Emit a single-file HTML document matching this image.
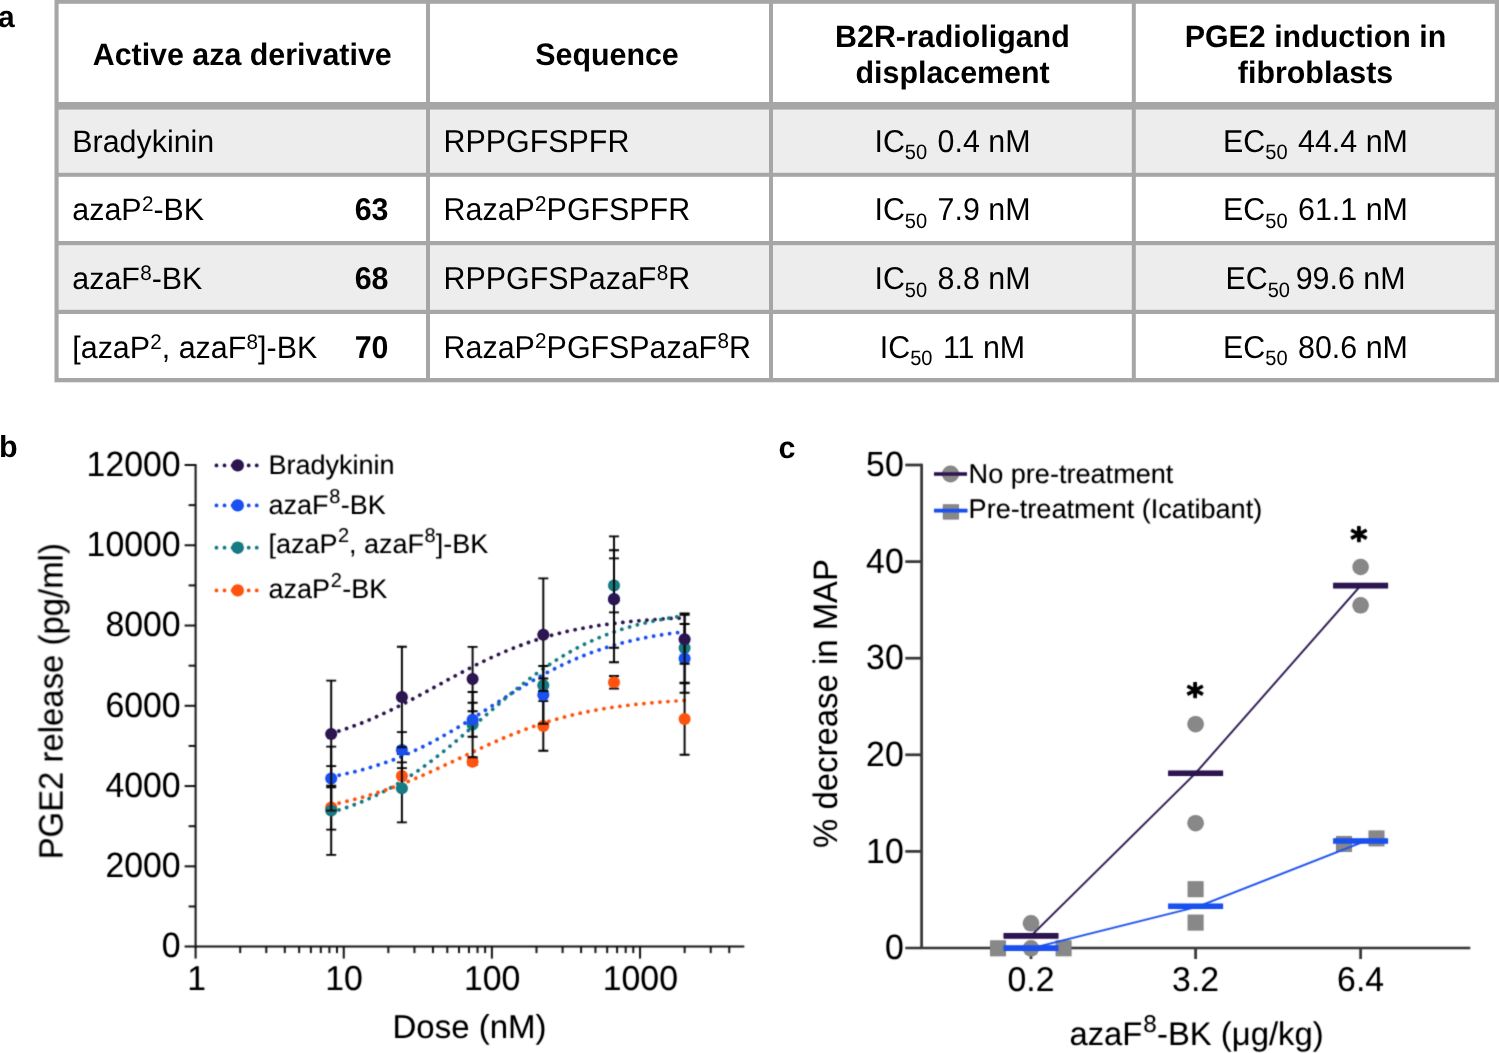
<!DOCTYPE html>
<html lang="en"><head><meta charset="utf-8"><title>Figure</title>
<style>
html,body{margin:0;padding:0;background:#fff;}
body{width:1499px;height:1053px;overflow:hidden;}
svg{display:block;font-family:"Liberation Sans", sans-serif;}
text{white-space:pre;text-rendering:geometricPrecision;}
</style></head><body>
<svg width="1499" height="1053" viewBox="0 0 1499 1053">
<defs><filter id="soft" x="0" y="0" width="1499" height="1053" filterUnits="userSpaceOnUse" color-interpolation-filters="sRGB"><feConvolveMatrix order="3" kernelMatrix="0.0324 0.1152 0.0324 0.1152 0.4096 0.1152 0.0324 0.1152 0.0324" divisor="1" edgeMode="none" preserveAlpha="false"/><feComponentTransfer><feFuncA type="linear" slope="1.06" intercept="0"/></feComponentTransfer></filter></defs>
<rect width="1499" height="1053" fill="#fff"/>
<rect x="54.5" y="0" width="1444.5" height="382.3" fill="#a6a6a6"/>
<rect x="58.6" y="3.8" width="367.40" height="98.20" fill="#ffffff"/>
<rect x="430" y="3.8" width="339.00" height="98.20" fill="#ffffff"/>
<rect x="773" y="3.8" width="358.80" height="98.20" fill="#ffffff"/>
<rect x="1135.8" y="3.8" width="359.00" height="98.20" fill="#ffffff"/>
<rect x="58.6" y="109.6" width="367.40" height="63.20" fill="#ededed"/>
<rect x="430" y="109.6" width="339.00" height="63.20" fill="#ededed"/>
<rect x="773" y="109.6" width="358.80" height="63.20" fill="#ededed"/>
<rect x="1135.8" y="109.6" width="359.00" height="63.20" fill="#ededed"/>
<rect x="58.6" y="176.8" width="367.40" height="64.20" fill="#ffffff"/>
<rect x="430" y="176.8" width="339.00" height="64.20" fill="#ffffff"/>
<rect x="773" y="176.8" width="358.80" height="64.20" fill="#ffffff"/>
<rect x="1135.8" y="176.8" width="359.00" height="64.20" fill="#ffffff"/>
<rect x="58.6" y="245.2" width="367.40" height="64.60" fill="#ededed"/>
<rect x="430" y="245.2" width="339.00" height="64.60" fill="#ededed"/>
<rect x="773" y="245.2" width="358.80" height="64.60" fill="#ededed"/>
<rect x="1135.8" y="245.2" width="359.00" height="64.60" fill="#ededed"/>
<rect x="58.6" y="314" width="367.40" height="64.00" fill="#ffffff"/>
<rect x="430" y="314" width="339.00" height="64.00" fill="#ffffff"/>
<rect x="773" y="314" width="358.80" height="64.00" fill="#ffffff"/>
<rect x="1135.8" y="314" width="359.00" height="64.00" fill="#ffffff"/>
<text x="-2.0" y="27.3" font-size="30.0" font-weight="bold">a</text>
<text x="-1" y="457.3" font-size="30.5" font-weight="bold">b</text>
<text x="778.5" y="457.5" font-size="30.5" font-weight="bold">c</text>
<text x="242.2" y="65.4" font-size="30.4" text-anchor="middle" font-weight="bold" transform="matrix(1 0 0 1.02 0 -1.308)">Active aza derivative</text>
<text x="607" y="65.4" font-size="30.4" text-anchor="middle" font-weight="bold" transform="matrix(1 0 0 1.02 0 -1.308)">Sequence</text>
<text x="952.4" y="47.4" font-size="30.4" text-anchor="middle" font-weight="bold" transform="matrix(1 0 0 1.02 0 -0.948)">B2R-radioligand</text>
<text x="952.6" y="83.3" font-size="30.4" text-anchor="middle" font-weight="bold" transform="matrix(1 0 0 1.02 0 -1.666)">displacement</text>
<text x="1315.5" y="47.4" font-size="30.4" text-anchor="middle" font-weight="bold" transform="matrix(1 0 0 1.02 0 -0.948)">PGE2 induction in</text>
<text x="1315.5" y="83.3" font-size="30.4" text-anchor="middle" font-weight="bold" transform="matrix(1 0 0 1.02 0 -1.666)">fibroblasts</text>
<text x="72.3" y="151.6" font-size="30.4" transform="matrix(1 0 0 1.02 0 -3.032)">Bradykinin</text>
<text x="443.6" y="151.6" font-size="30.4" transform="matrix(1 0 0 1.04 0 -6.064)">RPPGFSPFR</text>
<text x="952.5" y="151.6" font-size="30.4" text-anchor="middle" transform="matrix(1 0 0 1.04 0 -6.064)">IC<tspan font-size="20.06" dx="0" dy="7.14">50</tspan><tspan dx="2" dy="-7.14"> 0.4 nM</tspan></text>
<text x="1315.5" y="151.6" font-size="30.4" text-anchor="middle" transform="matrix(1 0 0 1.04 0 -6.064)">EC<tspan font-size="20.06" dx="0" dy="7.14">50</tspan><tspan dx="2" dy="-7.14"> 44.4 nM</tspan></text>
<text x="72.3" y="220.1" font-size="30.4" transform="matrix(1 0 0 1.02 0 -4.402)">azaP<tspan font-size="20.67" dx="0.3" dy="-9.12">2</tspan><tspan dx="0" dy="9.12">-BK</tspan></text>
<text x="388.5" y="220.1" font-size="30.4" text-anchor="end" font-weight="bold" transform="matrix(1 0 0 1.04 0 -8.804)">63</text>
<text x="443.6" y="220.1" font-size="30.4" transform="matrix(1 0 0 1.04 0 -8.804)">RazaP<tspan font-size="20.67" dx="0.3" dy="-9.12">2</tspan><tspan dx="0" dy="9.12">PGFSPFR</tspan></text>
<text x="952.5" y="220.1" font-size="30.4" text-anchor="middle" transform="matrix(1 0 0 1.04 0 -8.804)">IC<tspan font-size="20.06" dx="0" dy="7.14">50</tspan><tspan dx="2" dy="-7.14"> 7.9 nM</tspan></text>
<text x="1315.5" y="220.1" font-size="30.4" text-anchor="middle" transform="matrix(1 0 0 1.04 0 -8.804)">EC<tspan font-size="20.06" dx="0" dy="7.14">50</tspan><tspan dx="2" dy="-7.14"> 61.1 nM</tspan></text>
<text x="72.3" y="289.2" font-size="30.4" transform="matrix(1 0 0 1.02 0 -5.784)">azaF<tspan font-size="20.67" dx="0.3" dy="-9.12">8</tspan><tspan dx="0" dy="9.12">-BK</tspan></text>
<text x="388.5" y="289.2" font-size="30.4" text-anchor="end" font-weight="bold" transform="matrix(1 0 0 1.04 0 -11.568)">68</text>
<text x="443.6" y="289.2" font-size="30.4" transform="matrix(1 0 0 1.04 0 -11.568)">RPPGFSPazaF<tspan font-size="20.67" dx="0.3" dy="-9.12">8</tspan><tspan dx="0" dy="9.12">R</tspan></text>
<text x="952.5" y="289.2" font-size="30.4" text-anchor="middle" transform="matrix(1 0 0 1.04 0 -11.568)">IC<tspan font-size="20.06" dx="0" dy="7.14">50</tspan><tspan dx="2" dy="-7.14"> 8.8 nM</tspan></text>
<text x="1315.5" y="289.2" font-size="30.4" text-anchor="middle" transform="matrix(1 0 0 1.04 0 -11.568)">EC<tspan font-size="20.06" dx="0" dy="7.14">50</tspan><tspan dx="-2.8" dy="-7.14"> 99.6 nM</tspan></text>
<text x="72.3" y="357.9" font-size="30.4" transform="matrix(1 0 0 1.02 0 -7.158)">[azaP<tspan font-size="20.67" dx="0.3" dy="-9.12">2</tspan><tspan dx="0" dy="9.12">, azaF</tspan><tspan font-size="20.67" dx="0.3" dy="-9.12">8</tspan><tspan dx="0" dy="9.12">]-BK</tspan></text>
<text x="388.5" y="357.9" font-size="30.4" text-anchor="end" font-weight="bold" transform="matrix(1 0 0 1.04 0 -14.316)">70</text>
<text x="443.6" y="357.9" font-size="30.4" transform="matrix(1 0 0 1.04 0 -14.316)">RazaP<tspan font-size="20.67" dx="0.3" dy="-9.12">2</tspan><tspan dx="0" dy="9.12">PGFSPazaF</tspan><tspan font-size="20.67" dx="0.3" dy="-9.12">8</tspan><tspan dx="0" dy="9.12">R</tspan></text>
<text x="952.5" y="357.9" font-size="30.4" text-anchor="middle" transform="matrix(1 0 0 1.04 0 -14.316)">IC<tspan font-size="20.06" dx="0" dy="7.14">50</tspan><tspan dx="2" dy="-7.14"> 11 nM</tspan></text>
<text x="1315.5" y="357.9" font-size="30.4" text-anchor="middle" transform="matrix(1 0 0 1.04 0 -14.316)">EC<tspan font-size="20.06" dx="0" dy="7.14">50</tspan><tspan dx="2" dy="-7.14"> 80.6 nM</tspan></text>
<g filter="url(#soft)">
<g stroke="#1c1c1c" stroke-width="2.0" fill="none" stroke-linecap="butt">
<path d="M195.6 463.9V946.6"/>
<path d="M184.6 946.6H744.3"/>
<path d="M184.6 866.33H195.6"/>
<path d="M184.6 786.07H195.6"/>
<path d="M184.6 705.80H195.6"/>
<path d="M184.6 625.53H195.6"/>
<path d="M184.6 545.27H195.6"/>
<path d="M184.6 465.00H195.6"/>
<path d="M188.6 906.47H195.6"/>
<path d="M188.6 826.20H195.6"/>
<path d="M188.6 745.93H195.6"/>
<path d="M188.6 665.67H195.6"/>
<path d="M188.6 585.40H195.6"/>
<path d="M188.6 505.13H195.6"/>
<path d="M195.60 946.6V958.6"/>
<path d="M240.20 946.6V953.1"/>
<path d="M266.29 946.6V953.1"/>
<path d="M284.80 946.6V953.1"/>
<path d="M299.15 946.6V953.1"/>
<path d="M310.88 946.6V953.1"/>
<path d="M320.80 946.6V953.1"/>
<path d="M329.39 946.6V953.1"/>
<path d="M336.97 946.6V953.1"/>
<path d="M343.75 946.6V958.6"/>
<path d="M388.35 946.6V953.1"/>
<path d="M414.44 946.6V953.1"/>
<path d="M432.95 946.6V953.1"/>
<path d="M447.30 946.6V953.1"/>
<path d="M459.03 946.6V953.1"/>
<path d="M468.95 946.6V953.1"/>
<path d="M477.54 946.6V953.1"/>
<path d="M485.12 946.6V953.1"/>
<path d="M491.90 946.6V958.6"/>
<path d="M536.50 946.6V953.1"/>
<path d="M562.59 946.6V953.1"/>
<path d="M581.10 946.6V953.1"/>
<path d="M595.45 946.6V953.1"/>
<path d="M607.18 946.6V953.1"/>
<path d="M617.10 946.6V953.1"/>
<path d="M625.69 946.6V953.1"/>
<path d="M633.27 946.6V953.1"/>
<path d="M640.05 946.6V958.6"/>
<path d="M684.65 946.6V953.1"/>
<path d="M710.74 946.6V953.1"/>
<path d="M729.25 946.6V953.1"/>
</g>
<text x="180.6" y="957.3000000000001" font-size="33.8" text-anchor="end" transform="matrix(1 0 0 1.035 0 -33.505)">0</text>
<text x="180.6" y="877.0333333333334" font-size="33.8" text-anchor="end" transform="matrix(1 0 0 1.035 0 -30.696)">2000</text>
<text x="180.6" y="796.7666666666668" font-size="33.8" text-anchor="end" transform="matrix(1 0 0 1.035 0 -27.887)">4000</text>
<text x="180.6" y="716.5" font-size="33.8" text-anchor="end" transform="matrix(1 0 0 1.035 0 -25.077)">6000</text>
<text x="180.6" y="636.2333333333333" font-size="33.8" text-anchor="end" transform="matrix(1 0 0 1.035 0 -22.268)">8000</text>
<text x="180.6" y="555.9666666666667" font-size="33.8" text-anchor="end" transform="matrix(1 0 0 1.035 0 -19.459)">10000</text>
<text x="180.6" y="475.7" font-size="33.8" text-anchor="end" transform="matrix(1 0 0 1.035 0 -16.649)">12000</text>
<text x="196.6" y="990.2" font-size="33.8" text-anchor="middle" transform="matrix(1 0 0 1.025 0 -24.755)">1</text>
<text x="344.05" y="990.2" font-size="33.8" text-anchor="middle" transform="matrix(1 0 0 1.025 0 -24.755)">10</text>
<text x="492.2" y="990.2" font-size="33.8" text-anchor="middle" transform="matrix(1 0 0 1.025 0 -24.755)">100</text>
<text x="640.35" y="990.2" font-size="33.8" text-anchor="middle" transform="matrix(1 0 0 1.025 0 -24.755)">1000</text>
<text x="469.5" y="1037.7" font-size="33.0" text-anchor="middle">Dose (nM)</text>
<text transform="translate(62.5 701.3) rotate(-90) scale(1 1.03)" font-size="32.9" text-anchor="middle">PGE2 release (pg/ml)</text>
<path d="M216.4 465.4H259" stroke="#2d1650" stroke-width="3.7" stroke-linecap="round" stroke-dasharray="0.1 7.96" fill="none"/>
<circle cx="237.7" cy="465.4" r="6.2" fill="#2d1650"/>
<text x="268.4" y="474.1" font-size="27">Bradykinin</text>
<path d="M216.4 505.4H259" stroke="#1a50f0" stroke-width="3.7" stroke-linecap="round" stroke-dasharray="0.1 7.96" fill="none"/>
<circle cx="237.7" cy="505.4" r="6.2" fill="#1a50f0"/>
<text x="268.4" y="513.5" font-size="27">azaF<tspan font-size="19.98" dx="0.8" dy="-10.67">8</tspan><tspan dx="0.4" dy="10.67">-BK</tspan></text>
<path d="M216.4 547.6999999999999H259" stroke="#187a82" stroke-width="3.7" stroke-linecap="round" stroke-dasharray="0.1 7.96" fill="none"/>
<circle cx="237.7" cy="547.6999999999999" r="6.2" fill="#187a82"/>
<text x="268.4" y="553.1" font-size="27">[azaP<tspan font-size="19.98" dx="0.5" dy="-10.67">2</tspan><tspan dx="0" dy="10.67">, azaF</tspan><tspan font-size="19.98" dx="0.5" dy="-10.67">8</tspan><tspan dx="0" dy="10.67">]-BK</tspan></text>
<path d="M216.4 590.4H259" stroke="#ff5410" stroke-width="3.7" stroke-linecap="round" stroke-dasharray="0.1 7.96" fill="none"/>
<circle cx="237.7" cy="590.4" r="6.2" fill="#ff5410"/>
<text x="268.4" y="597.9" font-size="27">azaP<tspan font-size="19.98" dx="0.8" dy="-10.67">2</tspan><tspan dx="0.4" dy="10.67">-BK</tspan></text>
<path d="M331.2 733.5 L334.2 732.6 L337.1 731.7 L340.1 730.7 L343.0 729.8 L345.9 728.8 L348.9 727.8 L351.8 726.7 L354.8 725.6 L357.7 724.5 L360.7 723.4 L363.6 722.2 L366.6 721.0 L369.5 719.8 L372.5 718.5 L375.4 717.2 L378.3 715.9 L381.3 714.6 L384.2 713.2 L387.2 711.9 L390.1 710.5 L393.1 709.0 L396.0 707.6 L399.0 706.1 L401.9 704.6 L404.8 703.1 L407.8 701.6 L410.7 700.0 L413.7 698.5 L416.6 696.9 L419.6 695.3 L422.5 693.7 L425.5 692.1 L428.4 690.5 L431.4 688.9 L434.3 687.3 L437.2 685.7 L440.2 684.1 L443.1 682.5 L446.1 680.8 L449.0 679.2 L452.0 677.6 L454.9 676.0 L457.9 674.5 L460.8 672.9 L463.8 671.3 L466.7 669.8 L469.6 668.3 L472.6 666.7 L475.5 665.2 L478.5 663.8 L481.4 662.3 L484.4 660.9 L487.3 659.5 L490.3 658.1 L493.2 656.7 L496.2 655.4 L499.1 654.1 L502.0 652.8 L505.0 651.5 L507.9 650.3 L510.9 649.1 L513.8 647.9 L516.8 646.8 L519.7 645.7 L522.7 644.6 L525.6 643.5 L528.5 642.5 L531.5 641.5 L534.4 640.5 L537.4 639.6 L540.3 638.6 L543.3 637.7 L546.2 636.9 L549.2 636.0 L552.1 635.2 L555.1 634.4 L558.0 633.7 L560.9 632.9 L563.9 632.2 L566.8 631.5 L569.8 630.9 L572.7 630.2 L575.7 629.6 L578.6 629.0 L581.6 628.5 L584.5 627.9 L587.5 627.4 L590.4 626.9 L593.3 626.4 L596.3 625.9 L599.2 625.4 L602.2 625.0 L605.1 624.6 L608.1 624.2 L611.0 623.8 L614.0 623.4 L616.9 623.0 L619.9 622.7 L622.8 622.4 L625.7 622.0 L628.7 621.7 L631.6 621.4 L634.6 621.1 L637.5 620.9 L640.5 620.6 L643.4 620.4 L646.4 620.1 L649.3 619.9 L652.2 619.7 L655.2 619.5 L658.1 619.3 L661.1 619.1 L664.0 618.9 L667.0 618.7 L669.9 618.5 L672.9 618.4 L675.8 618.2 L678.8 618.1 L681.7 617.9 L684.6 617.8" stroke="#2d1650" stroke-width="3.7" stroke-linecap="round" stroke-dasharray="0.1 7.96" fill="none"/>
<path d="M331.2 776.7 L334.2 776.2 L337.1 775.6 L340.1 775.0 L343.0 774.4 L345.9 773.7 L348.9 773.1 L351.8 772.4 L354.8 771.7 L357.7 770.9 L360.7 770.2 L363.6 769.4 L366.6 768.5 L369.5 767.7 L372.5 766.8 L375.4 765.9 L378.3 764.9 L381.3 764.0 L384.2 763.0 L387.2 761.9 L390.1 760.9 L393.1 759.8 L396.0 758.6 L399.0 757.5 L401.9 756.3 L404.8 755.0 L407.8 753.8 L410.7 752.5 L413.7 751.1 L416.6 749.7 L419.6 748.3 L422.5 746.9 L425.5 745.5 L428.4 744.0 L431.4 742.4 L434.3 740.9 L437.2 739.3 L440.2 737.7 L443.1 736.0 L446.1 734.4 L449.0 732.7 L452.0 730.9 L454.9 729.2 L457.9 727.4 L460.8 725.6 L463.8 723.8 L466.7 722.0 L469.6 720.2 L472.6 718.3 L475.5 716.5 L478.5 714.6 L481.4 712.7 L484.4 710.8 L487.3 708.9 L490.3 707.0 L493.2 705.1 L496.2 703.2 L499.1 701.4 L502.0 699.5 L505.0 697.6 L507.9 695.7 L510.9 693.9 L513.8 692.0 L516.8 690.2 L519.7 688.4 L522.7 686.6 L525.6 684.8 L528.5 683.1 L531.5 681.4 L534.4 679.7 L537.4 678.0 L540.3 676.3 L543.3 674.7 L546.2 673.1 L549.2 671.5 L552.1 670.0 L555.1 668.5 L558.0 667.0 L560.9 665.6 L563.9 664.2 L566.8 662.8 L569.8 661.5 L572.7 660.1 L575.7 658.9 L578.6 657.6 L581.6 656.4 L584.5 655.2 L587.5 654.1 L590.4 653.0 L593.3 651.9 L596.3 650.9 L599.2 649.9 L602.2 648.9 L605.1 647.9 L608.1 647.0 L611.0 646.1 L614.0 645.2 L616.9 644.4 L619.9 643.6 L622.8 642.8 L625.7 642.1 L628.7 641.4 L631.6 640.7 L634.6 640.0 L637.5 639.3 L640.5 638.7 L643.4 638.1 L646.4 637.5 L649.3 637.0 L652.2 636.4 L655.2 635.9 L658.1 635.4 L661.1 635.0 L664.0 634.5 L667.0 634.1 L669.9 633.6 L672.9 633.2 L675.8 632.8 L678.8 632.5 L681.7 632.1 L684.6 631.8" stroke="#1a50f0" stroke-width="3.7" stroke-linecap="round" stroke-dasharray="0.1 7.96" fill="none"/>
<path d="M331.2 812.3 L334.2 811.4 L337.1 810.5 L340.1 809.6 L343.0 808.7 L345.9 807.7 L348.9 806.7 L351.8 805.6 L354.8 804.5 L357.7 803.4 L360.7 802.2 L363.6 801.0 L366.6 799.7 L369.5 798.4 L372.5 797.1 L375.4 795.7 L378.3 794.3 L381.3 792.8 L384.2 791.3 L387.2 789.7 L390.1 788.1 L393.1 786.5 L396.0 784.8 L399.0 783.0 L401.9 781.2 L404.8 779.4 L407.8 777.5 L410.7 775.6 L413.7 773.6 L416.6 771.6 L419.6 769.6 L422.5 767.5 L425.5 765.3 L428.4 763.2 L431.4 760.9 L434.3 758.7 L437.2 756.4 L440.2 754.1 L443.1 751.7 L446.1 749.3 L449.0 746.9 L452.0 744.5 L454.9 742.0 L457.9 739.5 L460.8 737.0 L463.8 734.5 L466.7 731.9 L469.6 729.4 L472.6 726.8 L475.5 724.2 L478.5 721.6 L481.4 719.1 L484.4 716.5 L487.3 713.9 L490.3 711.3 L493.2 708.8 L496.2 706.2 L499.1 703.7 L502.0 701.1 L505.0 698.6 L507.9 696.1 L510.9 693.7 L513.8 691.3 L516.8 688.8 L519.7 686.5 L522.7 684.1 L525.6 681.8 L528.5 679.5 L531.5 677.3 L534.4 675.1 L537.4 672.9 L540.3 670.8 L543.3 668.7 L546.2 666.7 L549.2 664.7 L552.1 662.7 L555.1 660.8 L558.0 659.0 L560.9 657.1 L563.9 655.4 L566.8 653.6 L569.8 652.0 L572.7 650.3 L575.7 648.7 L578.6 647.2 L581.6 645.7 L584.5 644.2 L587.5 642.8 L590.4 641.5 L593.3 640.1 L596.3 638.8 L599.2 637.6 L602.2 636.4 L605.1 635.2 L608.1 634.1 L611.0 633.0 L614.0 632.0 L616.9 631.0 L619.9 630.0 L622.8 629.0 L625.7 628.1 L628.7 627.3 L631.6 626.4 L634.6 625.6 L637.5 624.8 L640.5 624.1 L643.4 623.4 L646.4 622.7 L649.3 622.0 L652.2 621.3 L655.2 620.7 L658.1 620.1 L661.1 619.6 L664.0 619.0 L667.0 618.5 L669.9 618.0 L672.9 617.5 L675.8 617.0 L678.8 616.6 L681.7 616.2 L684.6 615.8" stroke="#187a82" stroke-width="3.7" stroke-linecap="round" stroke-dasharray="0.1 7.96" fill="none"/>
<path d="M331.2 804.7 L334.2 804.1 L337.1 803.5 L340.1 802.9 L343.0 802.2 L345.9 801.5 L348.9 800.8 L351.8 800.1 L354.8 799.3 L357.7 798.6 L360.7 797.8 L363.6 796.9 L366.6 796.1 L369.5 795.2 L372.5 794.3 L375.4 793.4 L378.3 792.4 L381.3 791.5 L384.2 790.5 L387.2 789.4 L390.1 788.4 L393.1 787.3 L396.0 786.2 L399.0 785.1 L401.9 784.0 L404.8 782.8 L407.8 781.6 L410.7 780.4 L413.7 779.2 L416.6 777.9 L419.6 776.7 L422.5 775.4 L425.5 774.1 L428.4 772.8 L431.4 771.5 L434.3 770.1 L437.2 768.8 L440.2 767.4 L443.1 766.0 L446.1 764.6 L449.0 763.2 L452.0 761.9 L454.9 760.5 L457.9 759.1 L460.8 757.7 L463.8 756.3 L466.7 754.9 L469.6 753.5 L472.6 752.1 L475.5 750.7 L478.5 749.3 L481.4 747.9 L484.4 746.6 L487.3 745.2 L490.3 743.9 L493.2 742.6 L496.2 741.3 L499.1 740.0 L502.0 738.7 L505.0 737.5 L507.9 736.2 L510.9 735.0 L513.8 733.8 L516.8 732.7 L519.7 731.5 L522.7 730.4 L525.6 729.3 L528.5 728.2 L531.5 727.2 L534.4 726.1 L537.4 725.1 L540.3 724.1 L543.3 723.2 L546.2 722.2 L549.2 721.3 L552.1 720.5 L555.1 719.6 L558.0 718.8 L560.9 718.0 L563.9 717.2 L566.8 716.4 L569.8 715.7 L572.7 715.0 L575.7 714.3 L578.6 713.6 L581.6 712.9 L584.5 712.3 L587.5 711.7 L590.4 711.1 L593.3 710.6 L596.3 710.0 L599.2 709.5 L602.2 709.0 L605.1 708.5 L608.1 708.0 L611.0 707.6 L614.0 707.1 L616.9 706.7 L619.9 706.3 L622.8 705.9 L625.7 705.5 L628.7 705.2 L631.6 704.8 L634.6 704.5 L637.5 704.2 L640.5 703.9 L643.4 703.6 L646.4 703.3 L649.3 703.0 L652.2 702.8 L655.2 702.5 L658.1 702.3 L661.1 702.0 L664.0 701.8 L667.0 701.6 L669.9 701.4 L672.9 701.2 L675.8 701.0 L678.8 700.8 L681.7 700.7 L684.6 700.5" stroke="#ff5410" stroke-width="3.7" stroke-linecap="round" stroke-dasharray="0.1 7.96" fill="none"/>
<g stroke="#0a0a0a" stroke-width="1.9" fill="none">
<path d="M331.2 785.6V829.6M326.2 785.6h10M326.2 829.6h10"/>
<path d="M401.9 762.4V789.8M396.9 762.4h10M396.9 789.8h10"/>
<path d="M472.6 758.8V764.8M467.6 758.8h10M467.6 764.8h10"/>
<path d="M543.3 701.1V750.7M538.3 701.1h10M538.3 750.7h10"/>
<path d="M614.0 676.0V688.6M609.0 676.0h10M609.0 688.6h10"/>
<path d="M684.6 683.2V754.8M679.6 683.2h10M679.6 754.8h10"/>
</g>
<circle cx="331.2" cy="807.6" r="6" fill="#ff5410"/>
<circle cx="401.9" cy="776.1" r="6" fill="#ff5410"/>
<circle cx="472.6" cy="761.8" r="6" fill="#ff5410"/>
<circle cx="543.3" cy="725.9" r="6" fill="#ff5410"/>
<circle cx="614.0" cy="682.3" r="6" fill="#ff5410"/>
<circle cx="684.6" cy="719" r="6" fill="#ff5410"/>
<g stroke="#0a0a0a" stroke-width="1.9" fill="none">
<path d="M331.2 766.1V854.9M326.2 766.1h10M326.2 854.9h10"/>
<path d="M401.9 754.0V822.4M396.9 754.0h10M396.9 822.4h10"/>
<path d="M472.6 692.0V757.2M467.6 692.0h10M467.6 757.2h10"/>
<path d="M543.3 678.5V692.1M538.3 678.5h10M538.3 692.1h10"/>
<path d="M614.0 558.4V612.4M609.0 558.4h10M609.0 612.4h10"/>
<path d="M684.6 613.4V682.6M679.6 613.4h10M679.6 682.6h10"/>
</g>
<circle cx="331.2" cy="810.5" r="6" fill="#187a82"/>
<circle cx="401.9" cy="788.2" r="6" fill="#187a82"/>
<circle cx="472.6" cy="724.6" r="6" fill="#187a82"/>
<circle cx="543.3" cy="685.3" r="6" fill="#187a82"/>
<circle cx="614.0" cy="585.4" r="6" fill="#187a82"/>
<circle cx="684.6" cy="648.0" r="6" fill="#187a82"/>
<g stroke="#0a0a0a" stroke-width="1.9" fill="none">
<path d="M331.2 746.6V810.6M326.2 746.6h10M326.2 810.6h10"/>
<path d="M401.9 732.1V768.1M396.9 732.1h10M396.9 768.1h10"/>
<path d="M472.6 702.7V736.7M467.6 702.7h10M467.6 736.7h10"/>
<path d="M543.3 666.0V723.8M538.3 666.0h10M538.3 723.8h10"/>
<path d="M614.0 550.3V647.7M609.0 550.3h10M609.0 647.7h10"/>
<path d="M684.6 624.0V692.8M679.6 624.0h10M679.6 692.8h10"/>
</g>
<circle cx="331.2" cy="778.6" r="6" fill="#1a50f0"/>
<circle cx="401.9" cy="750.1" r="6" fill="#1a50f0"/>
<circle cx="472.6" cy="719.7" r="6" fill="#1a50f0"/>
<circle cx="543.3" cy="694.9" r="6" fill="#1a50f0"/>
<circle cx="614.0" cy="599" r="6" fill="#1a50f0"/>
<circle cx="684.6" cy="658.4" r="6" fill="#1a50f0"/>
<g stroke="#0a0a0a" stroke-width="1.9" fill="none">
<path d="M331.2 680.6V787.2M326.2 680.6h10M326.2 787.2h10"/>
<path d="M401.9 646.8V747.2M396.9 646.8h10M396.9 747.2h10"/>
<path d="M472.6 646.9V711.3M467.6 646.9h10M467.6 711.3h10"/>
<path d="M543.3 578.4V691.0M538.3 578.4h10M538.3 691.0h10"/>
<path d="M614.0 536.4V662.2M609.0 536.4h10M609.0 662.2h10"/>
<path d="M684.6 614.8V663.8M679.6 614.8h10M679.6 663.8h10"/>
</g>
<circle cx="331.2" cy="733.9" r="6" fill="#2d1650"/>
<circle cx="401.9" cy="697" r="6" fill="#2d1650"/>
<circle cx="472.6" cy="679.1" r="6" fill="#2d1650"/>
<circle cx="543.3" cy="634.7" r="6" fill="#2d1650"/>
<circle cx="614.0" cy="599.3" r="6" fill="#2d1650"/>
<circle cx="684.6" cy="639.3" r="6" fill="#2d1650"/>
<g stroke="#3d3d3d" stroke-width="2.7" fill="none">
<path d="M921.6 463.7V948.0"/>
<path d="M905.3000000000001 948.0H1470.3"/>
<path d="M905.3000000000001 851.40H921.6"/>
<path d="M905.3000000000001 754.80H921.6"/>
<path d="M905.3000000000001 658.20H921.6"/>
<path d="M905.3000000000001 561.60H921.6"/>
<path d="M905.3000000000001 465.00H921.6"/>
<path d="M1031 948.0V959.0"/>
<path d="M1195.6 948.0V959.0"/>
<path d="M1360.6 948.0V959.0"/>
</g>
<text x="903.7" y="959.1" font-size="33.8" text-anchor="end" transform="matrix(1 0 0 1.035 0 -33.568)">0</text>
<text x="903.7" y="862.5" font-size="33.8" text-anchor="end" transform="matrix(1 0 0 1.035 0 -30.187)">10</text>
<text x="903.7" y="765.9" font-size="33.8" text-anchor="end" transform="matrix(1 0 0 1.035 0 -26.806)">20</text>
<text x="903.7" y="669.3000000000001" font-size="33.8" text-anchor="end" transform="matrix(1 0 0 1.035 0 -23.425)">30</text>
<text x="903.7" y="572.7" font-size="33.8" text-anchor="end" transform="matrix(1 0 0 1.035 0 -20.044)">40</text>
<text x="903.7" y="476.1" font-size="33.8" text-anchor="end" transform="matrix(1 0 0 1.035 0 -16.663)">50</text>
<text x="1031" y="991.4" font-size="33.8" text-anchor="middle" transform="matrix(1 0 0 1.02 0 -19.828)">0.2</text>
<text x="1195.6" y="991.4" font-size="33.8" text-anchor="middle" transform="matrix(1 0 0 1.02 0 -19.828)">3.2</text>
<text x="1360.6" y="991.4" font-size="33.8" text-anchor="middle" transform="matrix(1 0 0 1.02 0 -19.828)">6.4</text>
<text x="1196.5" y="1045.0" font-size="32.8" text-anchor="middle">azaF<tspan font-size="24.27" dx="0.8" dy="-12.96">8</tspan><tspan dx="0.4" dy="12.96">-BK (&#956;g/kg)</tspan></text>
<text transform="translate(836.6 703.5) rotate(-90) scale(1 1.03)" font-size="32.9" text-anchor="middle">% decrease in MAP</text>
<circle cx="950.5" cy="474" r="8.5" fill="#888888"/>
<path d="M934 474H967" stroke="#2d1650" stroke-width="3.4"/>
<rect x="942.8" y="504.2" width="16.2" height="15.4" fill="#888888"/>
<path d="M934 510.7H967.5" stroke="#1a50f0" stroke-width="3.8"/>
<text x="968.6" y="483" font-size="27.1">No pre-treatment</text>
<text x="968.6" y="518.3" font-size="27.1">Pre-treatment (Icatibant)</text>
<path d="M1031 935.9L1195.6 773.2L1360.6 585.6" stroke="#2d1650" stroke-width="1.8" fill="none"/>
<circle cx="1031" cy="923.3" r="8.3" fill="#888888"/>
<circle cx="1031" cy="948.3" r="8.3" fill="#888888"/>
<circle cx="1195.6" cy="724.2" r="8.3" fill="#888888"/>
<circle cx="1195.6" cy="823.2" r="8.3" fill="#888888"/>
<circle cx="1360.6" cy="567" r="8.3" fill="#888888"/>
<circle cx="1360.6" cy="605.3" r="8.3" fill="#888888"/>
<rect x="990" y="940.3" width="16" height="16" fill="#888888"/>
<rect x="1055.6" y="940.3" width="16" height="16" fill="#888888"/>
<rect x="1187.6" y="881.2" width="16" height="16" fill="#888888"/>
<rect x="1187.6" y="914.6" width="16" height="16" fill="#888888"/>
<rect x="1336" y="836" width="16" height="16" fill="#888888"/>
<rect x="1368.5" y="830.4" width="16" height="16" fill="#888888"/>
<path d="M1032 948.1L1198 906.6L1365 841.2" stroke="#1a50f0" stroke-width="1.8" fill="none"/>
<path d="M1003.5 935.9h55" stroke="#2d1650" stroke-width="5.6"/>
<path d="M1168.1 773.2h55" stroke="#2d1650" stroke-width="5.6"/>
<path d="M1333.1 585.6h55" stroke="#2d1650" stroke-width="5.6"/>
<path d="M1003.5 948.1h55" stroke="#1a50f0" stroke-width="5.6"/>
<path d="M1168.1 906.2h55" stroke="#1a50f0" stroke-width="5.6"/>
<path d="M1333.1 841h55" stroke="#1a50f0" stroke-width="5.6"/>
<text x="1195.2" y="706.5" font-size="33" text-anchor="middle" font-weight="bold" font-family="DejaVu Sans, Liberation Sans, sans-serif" stroke="#000" stroke-width="0.9" stroke-linejoin="round">*</text>
<text x="1359.0" y="551.1" font-size="33" text-anchor="middle" font-weight="bold" font-family="DejaVu Sans, Liberation Sans, sans-serif" stroke="#000" stroke-width="0.9" stroke-linejoin="round">*</text>
</g>
</svg>
</body></html>
